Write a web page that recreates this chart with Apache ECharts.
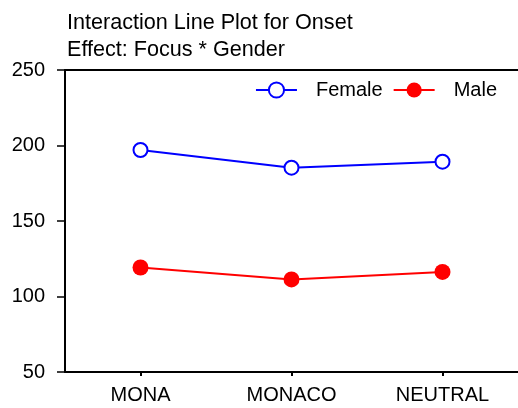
<!DOCTYPE html>
<html>
<head>
<meta charset="utf-8">
<script src="https://cdn.jsdelivr.net/npm/echarts@6/dist/echarts.min.js"></script>
<style>html,body{margin:0;padding:0;background:#fff}#c{width:518px;height:408px}</style>
</head>
<body>
<div id="c"></div>
<script>
var categories = ['MONA', 'MONACO', 'NEUTRAL'];
var femaleValues = [197, 185.3, 189.3];
var maleValues = [119.2, 111.3, 116.3];
var yTicks = [50, 100, 150, 200, 250];
var titleLines = ['Interaction Line Plot for Onset', 'Effect: Focus * Gender'];

var FONT = '"Liberation Sans", Arial, sans-serif';
var chart = echarts.init(document.getElementById('c'), null, {renderer: 'canvas'});
chart.setOption({
  animation: false,
  backgroundColor: '#ffffff',
  title: {
    text: titleLines.join('\n'),
    left: 67, top: 10, padding: 0,
    textStyle: {fontFamily: FONT, fontSize: 21.6, fontWeight: 'normal', color: '#000', lineHeight: 27}
  },
  legend: {
    right: 21, top: 80, padding: 0, itemGap: 10,
    itemWidth: 41, itemHeight: 19,
    textStyle: {fontFamily: FONT, fontSize: 20, color: '#000', padding: [0, 0, 0, 14]},
    data: ['Female', 'Male']
  },
  grid: {left: 65, right: 0, top: 70, bottom: 36, containLabel: false},
  xAxis: [{
    type: 'category', data: categories, boundaryGap: true,
    axisLine: {show: true, lineStyle: {color: '#000', width: 2}},
    axisTick: {show: true, alignWithLabel: true, length: 4, lineStyle: {color: '#000', width: 2}},
    axisLabel: {fontFamily: FONT, fontSize: 20, color: '#000', margin: 13},
    splitLine: {show: false}
  }, {
    type: 'category', data: categories, position: 'top',
    axisLine: {show: true, lineStyle: {color: '#000', width: 2}},
    axisTick: {show: false}, axisLabel: {show: false}, splitLine: {show: false}
  }],
  yAxis: {
    type: 'value', min: yTicks[0], max: yTicks[yTicks.length - 1], interval: yTicks[1] - yTicks[0],
    axisLine: {show: true, lineStyle: {color: '#000', width: 2}},
    axisTick: {show: true, length: 8, lineStyle: {color: '#000', width: 1.5}},
    axisLabel: {fontFamily: FONT, fontSize: 20, color: '#000', margin: 20},
    splitLine: {show: false}
  },
  series: [{
    name: 'Female', type: 'line', data: femaleValues,
    symbol: 'emptyCircle', symbolSize: 14,
    lineStyle: {color: '#0000ff', width: 2},
    itemStyle: {color: '#0000ff', borderColor: '#0000ff', borderWidth: 2}
  }, {
    name: 'Male', type: 'line', data: maleValues,
    symbol: 'circle', symbolSize: 16,
    lineStyle: {color: '#ff0000', width: 2},
    itemStyle: {color: '#ff0000'}
  }]
});
</script>
</body>
</html>
